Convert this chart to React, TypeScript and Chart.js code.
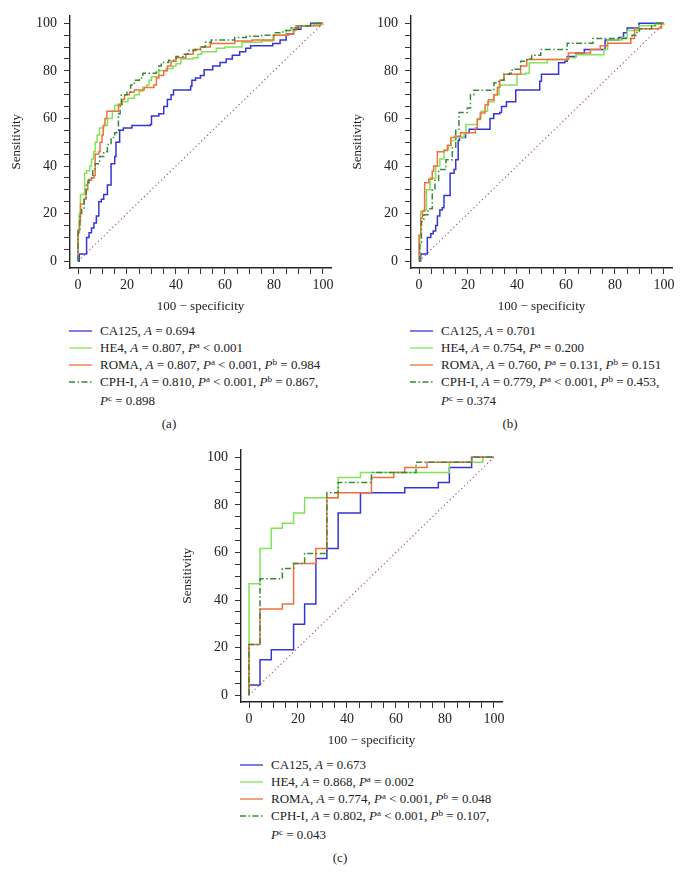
import React, { useEffect, useRef } from 'react';
import { Chart, registerables } from 'chart.js';

Chart.register(...registerables);

const FONT = '"Liberation Serif", "Times New Roman", serif';
const TEXT = '#222222';

// axis ticks (every 5 units, labelled every 20)
const minorTicks = [0, 5, 10, 15, 20, 25, 30, 35, 40, 45, 50, 55, 60, 65, 70, 75, 80, 85, 90, 95, 100];
const labelledTicks = [0, 20, 40, 60, 80, 100];
const tickLabels = ['0', '20', '40', '60', '80', '100'];

const seriesNames = ['CA125', 'HE4', 'ROMA', 'CPH-I'];
const seriesColors = ['#3535d4', '#84e25a', '#f2703c', '#388a38'];
const seriesDashes: number[][] = [[], [], [], [6, 2.5, 1.5, 2.5]];
const diagonalLine = [[0, 0], [100, 100]];
const diagonalColor = '#9c4a66';

// ---- Panel (a): [100 - specificity, sensitivity]
const aCA125 = [[0, 0], [0.5, 3], [3.5, 3.5], [3.5, 10], [4.5, 12], [5.5, 14], [6.5, 16], [7.5, 19], [8.5, 25], [9.5, 26], [10.5, 28], [12, 32], [13.5, 41], [15, 44], [15.5, 50], [17, 55], [18.5, 56], [22, 57], [29.5, 57.5], [30, 61], [33, 62], [35, 65], [36.5, 68], [38, 70], [39, 72], [46, 73.5], [46.5, 76], [48, 77], [50, 78], [51.5, 80.5], [55, 82], [58, 83.5], [60.5, 85], [63, 86.5], [66, 88], [68.5, 89.5], [70.5, 90.5], [79.5, 91.5], [82.5, 93], [85, 95.5], [88, 97.5], [91, 99], [95, 100], [100, 100]];
const aHE4 = [[0, 0], [0, 13], [0.5, 20], [1, 28], [2.5, 28.5], [2.7, 37], [3.5, 38], [4.8, 40], [5.5, 43], [6.4, 46], [7, 50], [7.8, 53], [8.8, 56], [10.5, 57], [12, 60], [14, 63], [15, 65.5], [18, 67], [20.4, 68.5], [23, 70], [25, 71.5], [26.5, 73], [28, 74], [29, 76], [30, 77.5], [33, 80], [36, 81], [38.8, 82], [40, 83], [42, 85], [47, 85.5], [49, 87], [50.5, 88], [56.5, 89.5], [60, 90], [67, 92], [75, 92.5], [79.6, 95], [85, 97], [87, 98], [90.5, 99], [96, 99.5], [100, 100]];
const aROMA = [[0, 0], [0, 12], [0.6, 17], [1, 24], [2.5, 26], [3.2, 30], [4, 34], [5.5, 35], [6.5, 36], [7, 45], [8.5, 46], [9, 50], [9.8, 53], [10.3, 57], [11, 60], [11.8, 63], [16, 63], [16.5, 66], [18, 68], [19, 70], [21, 71], [23, 72], [27, 73], [31, 74], [32, 77], [33, 78], [35, 80], [36.5, 82], [38, 84], [40, 85.5], [44, 87], [47, 89], [50, 90], [54, 91.5], [64, 92.5], [71, 93], [80, 95], [86, 95.5], [88, 97], [89, 99], [98, 99], [99, 100], [100, 100]];
const aCPHI = [[0, 0], [0, 13], [0.8, 20], [1.5, 22], [2.5, 26], [3.4, 33], [4.5, 35], [6, 38], [7, 41], [8.8, 44], [10.5, 46], [12, 49], [13.5, 52], [15, 54], [15.8, 55], [16.5, 62], [17.2, 66], [17.7, 70], [20, 71], [21.5, 74], [23, 76], [25, 77], [26.5, 79], [32, 79.5], [33, 82], [34, 83.5], [37, 84.5], [40, 86], [43, 87], [45, 88.5], [48, 89], [50, 90], [52, 92], [54.4, 93], [64, 94], [68.7, 94.5], [75, 95], [80, 96], [83.7, 97], [87, 98], [90, 99], [95, 100], [100, 100]];

// ---- Panel (b)
const bCA125 = [[0, 0], [0.7, 3], [3.4, 3.5], [3.4, 10], [4.8, 11.5], [5.8, 12.7], [6.8, 15], [7.5, 19], [8.5, 21.5], [9.5, 22.5], [10.2, 27.6], [12.7, 28], [12.7, 37], [14.3, 38.5], [15, 42.6], [16, 50.7], [16.5, 52], [19, 54], [20.5, 55.5], [28.6, 55.5], [29, 60], [30.5, 62], [33, 62.5], [33.7, 65], [35.7, 67], [38.8, 67], [39.5, 72], [49, 72], [49.3, 75.6], [50, 78.6], [56.5, 78.6], [57, 83.4], [59.5, 84], [60.5, 86], [64, 87.5], [67.5, 89], [75.5, 89], [76, 93], [81.6, 94], [83.5, 96], [85, 98], [89.8, 100], [100, 100]];
const bHE4 = [[0, 0], [0.3, 10], [0.7, 21], [2, 21.5], [3, 30], [4.5, 35], [6.8, 40], [8.5, 43], [10.2, 46.7], [12, 48.5], [13, 50.7], [15, 52], [18.4, 53.5], [19.2, 57.5], [22.4, 57.5], [23.8, 60], [25.3, 63], [28, 67], [30.6, 70], [32.7, 74], [38.8, 74], [40, 78.6], [43.5, 79], [45, 83.4], [52.4, 84.8], [60.5, 85.5], [64, 86.8], [75.5, 89], [77, 93], [83, 94], [85, 97], [89.8, 99], [96, 99.5], [100, 100]];
const bROMA = [[0, 0], [0, 11], [0.7, 18], [1.4, 21], [2.3, 33], [4, 34.4], [5.4, 37.8], [6, 40], [7.5, 46], [10.2, 46.5], [11.6, 48.7], [13, 52], [14.5, 52.5], [17, 54], [22.4, 54], [23, 56], [23.8, 59.6], [25, 62.3], [27, 65.7], [28.3, 67.8], [30.6, 70], [32, 73], [33, 76], [34.7, 78.6], [40.8, 78.6], [41.5, 82], [44, 84.8], [60.5, 84.8], [61, 87.5], [70, 89], [74, 90.5], [77, 91.6], [85, 91.6], [86.5, 93.6], [88, 97.7], [98, 98], [99, 100], [100, 100]];
const bCPHI = [[0, 0], [0.3, 8], [1, 16.7], [2, 19.5], [3.7, 22], [5.4, 30], [6.5, 34], [8, 38.5], [11, 42.6], [13.6, 48], [15, 55], [16.3, 62.5], [19.7, 64.4], [21, 70], [22.4, 71.8], [30, 71.8], [30.6, 75], [32.5, 76], [34.7, 78.6], [37, 79], [38, 80.7], [41.5, 84], [44, 85], [46, 86.5], [49.7, 89], [59, 89], [60.5, 91.6], [68.7, 91.6], [71, 93.6], [85, 93.6], [87, 95], [89, 96.5], [90, 97.7], [95, 99], [97, 100], [100, 100]];

// ---- Panel (c)
const cCA125 = [[0, 0], [0, 4.3], [4.5, 14.9], [9.1, 19.1], [18.2, 29.8], [22.7, 38.3], [27.3, 57.4], [31.8, 61.7], [36.4, 76.6], [45.5, 85.1], [63.6, 87.2], [77.3, 89.4], [81.8, 95.7], [90.9, 100], [100, 100]];
const cHE4 = [[0, 0], [0, 46.8], [4.5, 61.7], [9.1, 70.2], [13.6, 72.3], [18.2, 76.6], [22.7, 83], [36.4, 91.5], [45.5, 93.6], [81.8, 97.9], [95.5, 100], [100, 100]];
const cROMA = [[0, 0], [0, 21.3], [4.5, 36.2], [13.6, 38.3], [18.2, 55.3], [27.3, 61.7], [31.8, 83], [36.4, 85.1], [50, 91.5], [59.1, 93.6], [63.6, 95.7], [72.7, 97.9], [90.9, 100], [100, 100]];
const cCPHI = [[0, 0], [0, 21.3], [4.5, 48.9], [13.6, 53.2], [18.2, 55.3], [22.7, 59.6], [31.8, 85.1], [36.4, 89.4], [50, 93.6], [68.2, 97.9], [90.9, 100], [100, 100]];

// ---- Legend values: [A, [superscript, operator, value]...]
type PVal = [string, string, string];
const legendAucA = ['0.694', '0.807', '0.807', '0.810'];
const legendPA: PVal[][] = [[], [['a', '<', '0.001']], [['a', '<', '0.001'], ['b', '=', '0.984']], [['a', '<', '0.001'], ['b', '=', '0.867'], ['c', '=', '0.898']]];
const legendAucB = ['0.701', '0.754', '0.760', '0.779'];
const legendPB: PVal[][] = [[], [['a', '=', '0.200']], [['a', '=', '0.131'], ['b', '=', '0.151']], [['a', '<', '0.001'], ['b', '=', '0.453'], ['c', '=', '0.374']]];
const legendAucC = ['0.673', '0.868', '0.774', '0.802'];
const legendPC: PVal[][] = [[], [['a', '=', '0.002']], [['a', '<', '0.001'], ['b', '=', '0.048']], [['a', '<', '0.001'], ['b', '=', '0.107'], ['c', '=', '0.043']]];

const xTitle = '100 \u2212 specificity';
const yTitle = 'Sensitivity';

const toXY = (pts: number[][]) => pts.map(([x, y]) => ({ x, y }));
const labelFor = (v: number) => {
  const i = labelledTicks.indexOf(v);
  return i >= 0 ? tickLabels[i] : '';
};

function RocChart({ curves }: { curves: number[][][] }) {
  const ref = useRef<HTMLCanvasElement>(null);
  useEffect(() => {
    const datasets: any[] = [
      {
        data: toXY(diagonalLine),
        borderColor: diagonalColor,
        borderWidth: 1.1,
        borderDash: [1.2, 2.8],
        pointRadius: 0,
        order: 10,
      },
      ...curves.map((c, i) => ({
        data: toXY(c),
        borderColor: seriesColors[i],
        borderWidth: 1.5,
        borderDash: seriesDashes[i],
        stepped: 'before',
        pointRadius: 0,
        order: 4 - i,
      })),
    ];
    const axisCommon = (title: string, titlePad: any) => ({
      type: 'linear',
      afterBuildTicks: (s: any) => {
        s.ticks = minorTicks.map((v) => ({ value: v }));
      },
      ticks: {
        autoSkip: false,
        maxRotation: 0,
        color: TEXT,
        font: { family: FONT, size: 14 },
        callback: (v: any) => labelFor(Number(v)),
      },
      grid: { drawOnChartArea: false, drawTicks: true, tickLength: 6, color: '#333', lineWidth: 1 },
      border: { display: true, color: '#222', width: 1.4 },
      title: { display: true, text: title, color: TEXT, font: { family: FONT, size: 13 }, padding: titlePad },
    });
    const x: any = axisCommon(xTitle, { top: 0, bottom: 6 });
    x.min = -3.27;
    x.max = 103.3;
    x.ticks.padding = 3;
    x.afterFit = (s: any) => {
      s.height = 52;
    };
    const y: any = axisCommon(yTitle, { top: 9, bottom: 0 });
    y.min = -2.86;
    y.max = 103.3;
    y.ticks.padding = 7;
    y.afterFit = (s: any) => {
      s.width = 70;
    };
    const chart = new Chart(ref.current as HTMLCanvasElement, {
      type: 'line',
      data: { datasets },
      options: {
        animation: false,
        responsive: false,
        maintainAspectRatio: false,
        events: [],
        layout: { padding: { left: 0, top: 8, right: 10, bottom: 0 } },
        elements: { point: { radius: 0 }, line: { tension: 0 } },
        plugins: { legend: { display: false }, tooltip: { enabled: false } },
        scales: { x, y },
      } as any,
    });
    return () => chart.destroy();
  }, []);
  return <canvas ref={ref} width={341} height={320} style={{ position: 'absolute', left: 0, top: 0, width: 341, height: 320 }} />;
}

function Sup({ t }: { t: string }) {
  return <span style={{ fontSize: 9, position: 'relative', top: -4 }}>{t}</span>;
}

function LegendRow({ i, auc, ps }: { i: number; auc: string; ps: PVal[] }) {
  const parts: any[] = [];
  parts.push(<span key="n">{seriesNames[i]}, <i>A</i> = {auc}</span>);
  ps.forEach((p, k) => {
    if (k === 2) {
      parts.push(<span key={'s' + k}>,<br /></span>);
    } else {
      parts.push(<span key={'s' + k}>, </span>);
    }
    parts.push(
      <span key={'p' + k}>
        <i>P</i>
        <Sup t={p[0]} /> {p[1]} {p[2]}
      </span>
    );
  });
  return (
    <div style={{ display: 'flex', alignItems: 'flex-start', height: ps.length === 3 ? 34 : 17 }}>
      <div style={{ width: 31, height: 17, position: 'relative', flex: 'none' }}>
        <svg width={24} height={17} style={{ position: 'absolute', left: 0, top: 0 }}>
          <line x1={0} y1={9} x2={23} y2={9} stroke={seriesColors[i]} strokeWidth={1.3} strokeDasharray={seriesDashes[i].length ? seriesDashes[i].join(',') : undefined} />
        </svg>
      </div>
      <div style={{ whiteSpace: 'nowrap' }}>{parts}</div>
    </div>
  );
}

function Panel({ left, top, curves, aucs, ps, label }: any) {
  return (
    <div style={{ position: 'absolute', left, top, width: 341, height: 440 }}>
      <RocChart curves={curves} />
      <div style={{ position: 'absolute', left: 69, top: 322, fontFamily: FONT, fontSize: 13, lineHeight: '17px', color: TEXT }}>
        {aucs.map((a: string, i: number) => (
          <LegendRow key={i} i={i} auc={a} ps={ps[i]} />
        ))}
      </div>
      <div style={{ position: 'absolute', left: 139, width: 60, top: 415, textAlign: 'center', fontFamily: FONT, fontSize: 13, lineHeight: '17px', color: TEXT }}>
        {label}
      </div>
    </div>
  );
}

export default function App() {
  return (
    <div style={{ position: 'absolute', left: 0, top: 0, width: 682, height: 885, background: '#fff', overflow: 'hidden' }}>
      <Panel left={0} top={0} curves={[aCA125, aHE4, aROMA, aCPHI]} aucs={legendAucA} ps={legendPA} label="(a)" />
      <Panel left={341} top={0} curves={[bCA125, bHE4, bROMA, bCPHI]} aucs={legendAucB} ps={legendPB} label="(b)" />
      <Panel left={171} top={434} curves={[cCA125, cHE4, cROMA, cCPHI]} aucs={legendAucC} ps={legendPC} label="(c)" />
    </div>
  );
}
